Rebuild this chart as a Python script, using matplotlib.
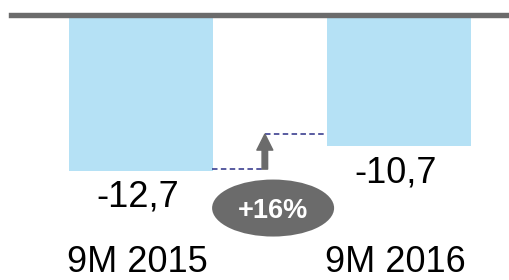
import matplotlib
matplotlib.use('Agg')
import matplotlib.pyplot as plt
from matplotlib.patches import Ellipse, FancyArrowPatch

categories = ['9M 2015', '9M 2016']
values = [-12.7, -10.7]
value_labels = ['-12,7', '-10,7']
change_label = '+16%'

plt.rcParams['font.family'] = ['Liberation Sans', 'DejaVu Sans']

fig = plt.figure(figsize=(5.1, 2.8), dpi=100)
ax = fig.add_axes([0, 0, 1, 1])
ax.axis('off')

x = [0, 1]
width = 144 / 258
ax.bar(x, values, width=width, color='#b5e1f5', zorder=1)
ax.set_xlim(-141 / 258, (510 - 141) / 258)
ax.set_ylim(-265 / 12.28, 15 / 12.28)

# baseline bar
ax.axhline(0, xmin=11.5 / 510, xmax=1, color='#6b6b6b', lw=3.9, zorder=3)

# value labels
for xi, v, lab in zip(x, values, value_labels):
    ax.annotate(lab, (xi, v), xytext=(-3.5, -36), textcoords='offset pixels',
                ha='center', va='baseline', fontsize=26, color='black')

# category labels
trans = ax.get_xaxis_transform()
for xi, c in zip(x, categories):
    ax.text(xi - 0.014, 1 - 272 / 280, c, transform=trans, ha='center',
            va='baseline', fontsize=26, color='black')

# connector
left_edge = x[0] + width / 2
right_edge = x[1] - width / 2
ax_x = (left_edge + right_edge) / 2 - 0.02
y_low = values[0] + 0.15
y_high = values[1] + 1.0
dash = (0, (3.6, 2.2))
ax.plot([left_edge - 0.005, ax_x], [y_low, y_low], ls=dash, color='#2b2f86', lw=1.1, zorder=2)
ax.plot([ax_x, right_edge], [y_high, y_high], ls=dash, color='#2b2f86', lw=1.1, zorder=2)
arrow = FancyArrowPatch((ax_x, y_low), (ax_x, y_high),
                        arrowstyle='simple,head_length=1.15,head_width=1.15,tail_width=0.4',
                        mutation_scale=10, color='#6b6b6b', shrinkA=0, shrinkB=0, zorder=4)
ax.add_patch(arrow)

# change bubble
ex, ey = 0.512, -15.72
ell = Ellipse((ex, ey), 122 / 258, 57 / 12.28, facecolor='#6b6b6b', edgecolor='none', zorder=4)
ax.add_patch(ell)
ax.annotate(change_label, (ex, ey), xytext=(-0.5, -10), textcoords='offset pixels',
            ha='center', va='baseline', fontsize=19.5, fontweight='bold', color='white', zorder=5)

fig.savefig('out.png', dpi=100)
